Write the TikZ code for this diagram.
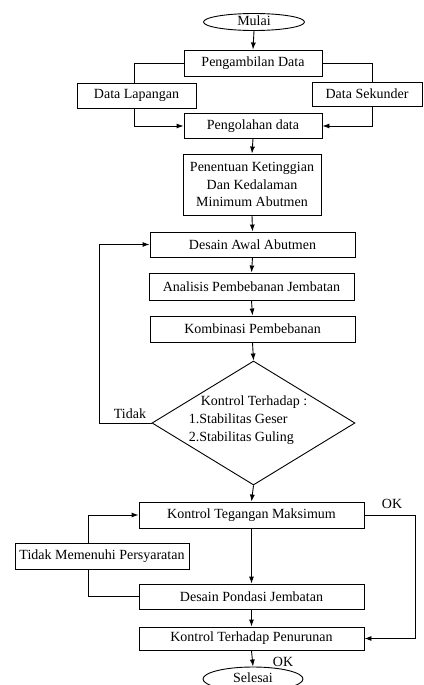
\documentclass[tikz,border=0pt]{standalone}
\usepackage{fontspec}
\setmainfont{Liberation Serif}
\usetikzlibrary{shapes.geometric,arrows.meta}
\begin{document}
\begin{tikzpicture}[x=1pt,y=-1pt,
  every node/.style={font=\fontsize{14}{17.5}\selectfont, inner sep=0pt},
  box/.style={draw, line width=0.9pt, rectangle, align=center},
  oval/.style={draw, ellipse, line width=0.9pt, text height=9pt, text depth=2pt},
  arr/.style={-{Latex[length=7pt,width=5pt]}, line width=0.9pt},
  ln/.style={line width=0.9pt}]
\clip (0,0) rectangle (423,685);
\node[oval, minimum width=101pt, minimum height=17pt] (mulai) at (254,22) {Mulai};
\node[box, minimum width=138pt, minimum height=26pt] (peng) at (253,63) {Pengambilan Data};
\node[box, minimum width=119pt, minimum height=25pt] (lap) at (136.5,95.5) {Data Lapangan};
\node[box, minimum width=110pt, minimum height=24pt] (sek) at (367,94) {Data Sekunder};
\node[box, minimum width=138pt, minimum height=25pt] (olah) at (253,126) {Pengolahan data};
\node[box, minimum width=138pt, minimum height=61pt] (tentu) at (252,184.5) {Penentuan Ketinggian\\Dan Kedalaman\\Minimum Abutmen};
\node[box, minimum width=205pt, minimum height=25pt] (awal) at (252.5,244.5) {Desain Awal Abutmen};
\node[box, minimum width=205pt, minimum height=27pt] (anal) at (251.5,286.5) {Analisis Pembebanan Jembatan};
\node[box, minimum width=205pt, minimum height=26pt] (komb) at (252.5,329) {Kombinasi Pembebanan};
\node[draw, diamond, line width=0.9pt, minimum width=203pt, minimum height=124pt] (dia) at (253.5,423) {};
\node[align=left, font=\fontsize{14}{18}\selectfont] (diatext) at (248,420) {\hspace{12pt}Kontrol Terhadap :\\1.Stabilitas Geser\\2.Stabilitas Guling};
\node (tidak) at (130,414) {Tidak};
\node[box, minimum width=225pt, minimum height=26pt] (teg) at (251.5,515) {Kontrol Tegangan Maksimum};
\node (ok1) at (392,504) {OK};
\node[box, minimum width=174pt, minimum height=26pt] (tmp) at (102,556) {Tidak Memenuhi Persyaratan};
\node[box, minimum width=225pt, minimum height=25pt] (pond) at (251.5,596.5) {Desain Pondasi Jembatan};
\node[box, minimum width=225pt, minimum height=23pt] (turun) at (251.5,638.5) {Kontrol Terhadap Penurunan};
\node (ok2) at (283,662) {OK};
\node[oval, minimum width=100pt, minimum height=24pt] (selesai) at (253,679) {Selesai};
\coordinate (lt) at (99,423);
\coordinate (rt) at (415,515);
% connectors
\draw[arr] (mulai.south) -- (peng.north);
\draw[ln] (peng.west) -| ([xshift=-2.5pt]lap.north);
\draw[ln] (peng.east) -| ([xshift=5pt]sek.north);
\draw[arr] ([xshift=-2.5pt]lap.south) |- (olah.west);
\draw[arr] ([xshift=5pt]sek.south) |- (olah.east);
\draw[arr] (olah.south) -- (tentu.north);
\draw[arr] (tentu.south) -- (awal.north);
\draw[arr] (awal.south) -- (anal.north);
\draw[arr] (anal.south) -- (komb.north);
\draw[arr] (komb.south) -- (dia.north);
\draw[arr] (dia.south) -- (teg.north);
\draw[arr] (dia.west) -- (lt) |- (awal.west);
\draw[arr] (teg.south) -- (pond.north);
\draw[arr] (teg.east) -- (rt) |- (turun.east);
\draw[arr] ([xshift=-14pt]tmp.north) |- (teg.west);
\draw[ln] ([xshift=-14pt]tmp.south) |- (pond.west);
\draw[arr] (pond.south) -- (turun.north);
\draw[arr] (turun.south) -- (selesai.north);
\end{tikzpicture}
\end{document}
